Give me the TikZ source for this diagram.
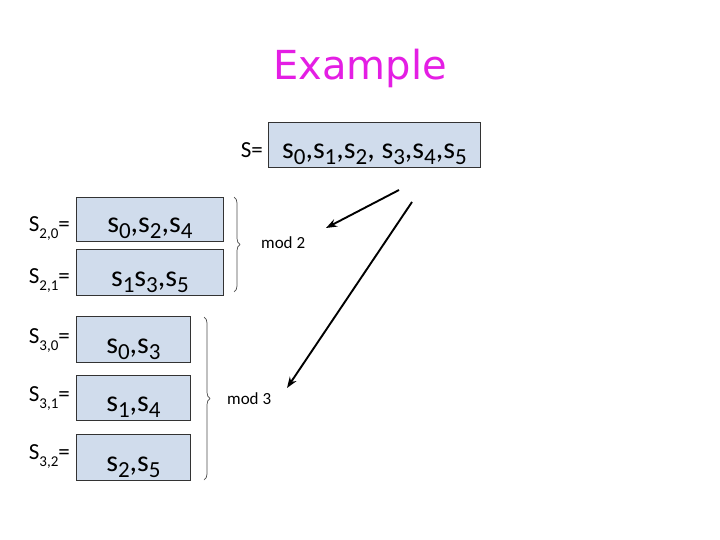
\documentclass[tikz,border=0pt]{standalone}
\usepackage{fontspec}
\setmainfont{Carlito}
\newfontfamily\titlefont{DejaVu Sans}
\usetikzlibrary{arrows.meta,decorations.pathreplacing}
\definecolor{boxfill}{RGB}{208,220,236}
\definecolor{titlemag}{RGB}{228,30,228}
\tikzset{
  setbox/.style={draw=black!80, line width=0.8pt, fill=boxfill, anchor=north west, inner sep=0pt},
  boxtext/.style={font=\fontsize{30}{32}\selectfont, anchor=base, inner sep=0pt},
  lbl/.style={font=\fontsize{23}{26}\selectfont, anchor=base east, inner sep=0pt},
  bracestyle/.style={decorate, decoration={brace, amplitude=6pt}, draw=black!70, line width=0.7pt},
  modtext/.style={font=\fontsize{17}{19}\selectfont, anchor=west, inner sep=0pt},
  arr/.style={-{Stealth[length=11pt,width=8pt]}, line width=1.9pt, black}
}
\newcommand{\subbig}[1]{\raisebox{-6pt}{\fontsize{23}{24}\selectfont #1}}
\newcommand{\sublbl}[1]{\raisebox{-7pt}{\fontsize{15}{16}\selectfont #1}}
\begin{document}
\begin{tikzpicture}[x=1pt,y=-1pt]
\useasboundingbox (0,0) rectangle (720,540);
\node[text=titlemag, font=\titlefont\fontsize{40}{44}\selectfont, inner sep=0pt] (title) at (360,68) {Example};
% top set
\node[setbox, minimum width=212pt, minimum height=45pt] (S) at (268,122) {};
\node[boxtext] (Stxt) at ([yshift=9pt]S.south) {s\subbig{0},s\subbig{1},s\subbig{2}, s\subbig{3},s\subbig{4},s\subbig{5}};
\node[lbl] (Slbl) at (263,158) {\fontsize{23}{25}\selectfont S=};
% mod 2 boxes
\node[setbox, minimum width=147pt, minimum height=44pt] (b20) at (76,197) {};
\node[boxtext] (t20) at ([yshift=9pt]b20.south) {s\subbig{0},s\subbig{2},s\subbig{4}};
\node[setbox, minimum width=147pt, minimum height=46pt] (b21) at (76,249) {};
\node[boxtext] (t21) at ([yshift=9pt]b21.south) {s\subbig{1}s\subbig{3},s\subbig{5}};
% mod 3 boxes
\node[setbox, minimum width=114pt, minimum height=46pt] (b30) at (76,316) {};
\node[boxtext] (t30) at ([yshift=9pt]b30.south) {s\subbig{0},s\subbig{3}};
\node[setbox, minimum width=114pt, minimum height=45pt] (b31) at (76,375) {};
\node[boxtext] (t31) at ([yshift=9pt]b31.south) {s\subbig{1},s\subbig{4}};
\node[setbox, minimum width=114pt, minimum height=46pt] (b32) at (76,434) {};
\node[boxtext] (t32) at ([yshift=9pt]b32.south) {s\subbig{2},s\subbig{5}};
% labels
\node[lbl] (l20) at (70,232) {S\sublbl{2,0}=};
\node[lbl] (l21) at (70,283) {S\sublbl{2,1}=};
\node[lbl] (l30) at (70,343) {S\sublbl{3,0}=};
\node[lbl] (l31) at (70,401) {S\sublbl{3,1}=};
\node[lbl] (l32) at (70,459) {S\sublbl{3,2}=};
% braces
\coordinate (br2a) at (234,197);
\coordinate (br2b) at (234,292);
\draw[bracestyle] (br2a) -- (br2b);
\node[modtext] (m2) at (261,243) {mod 2};
\coordinate (br3a) at (204,317);
\coordinate (br3b) at (204,480);
\draw[bracestyle] (br3a) -- (br3b);
\node[modtext] (m3) at (227,399) {mod 3};
% arrows
\coordinate (a1s) at (399,190);
\coordinate (a1e) at (326,228);
\coordinate (a2s) at (412,202);
\coordinate (a2e) at (287,388);
\draw[arr] (a1s) -- (a1e);
\draw[arr] (a2s) -- (a2e);
\end{tikzpicture}
\end{document}
